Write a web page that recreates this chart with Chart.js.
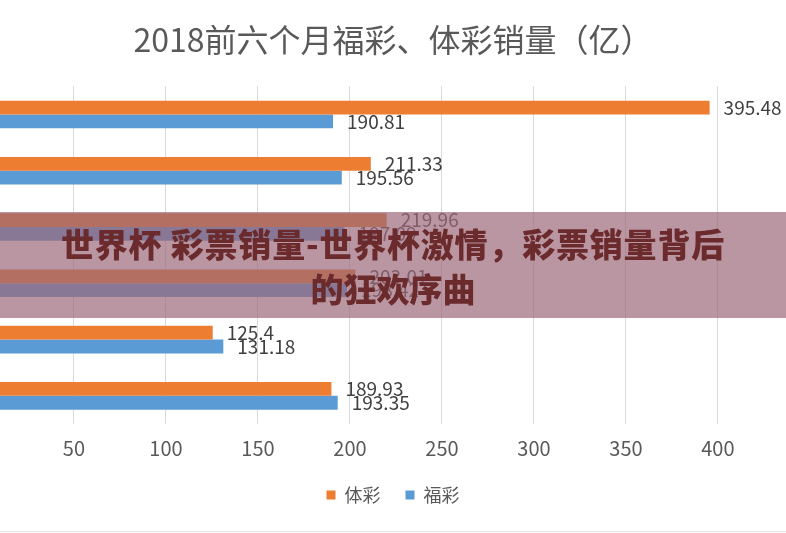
<!DOCTYPE html>
<html>
<head>
<meta charset="utf-8">
<script src="https://cdn.jsdelivr.net/npm/chart.js@4.4.1/dist/chart.umd.min.js"></script>
<style>
  html, body { margin: 0; padding: 0; background: #fff; }
  #wrap { position: relative; width: 786px; height: 533px; overflow: hidden; }
  #grafico { position: absolute; left: 0; top: 0; }
  #banda {
    position: absolute; left: 0; top: 212px; width: 786px; height: 106px;
    background: rgba(155, 106, 121, 0.7);
    box-sizing: border-box; padding-top: 9px;
    text-align: center; color: #6b2a2c;
    font-family: 'Noto Sans CJK SC', sans-serif; font-weight: 900;
    font-size: 33px; line-height: 45px;
  }
  #banda .l1 { letter-spacing: 0.8px; }
  #linea { position: absolute; left: 0; top: 531px; width: 786px; height: 1px; background: #e4e4e4; }
</style>
</head>
<body>
<div id="wrap">
  <canvas id="grafico" width="786" height="533"></canvas>
  <div id="banda"><span class="l1">世界杯 彩票销量-世界杯激情，彩票销量背后</span><br>的狂欢序曲</div>
  <div id="linea"></div>
</div>
<script>
// ==========================================
// Datos: ventas enero-junio 2018 (亿)
// ==========================================
const meses = ['1月', '2月', '3月', '4月', '5月', '6月'];
const ticSeries = ['体彩', '福彩'];
const ventasTicai = [189.93, 125.4, 203.01, 219.96, 211.33, 395.48];
const ventasFucai = [193.35, 131.18, 198.42, 197.09, 195.56, 190.81];
const ticksEjeX = [50, 100, 150, 200, 250, 300, 350, 400];

const titulo = '2018前六个月福彩、体彩销量（亿）';
const fuenteCJK = "'Noto Sans CJK SC', 'Noto Sans', sans-serif";

// el gráfico original está recortado por la izquierda: el 0 queda fuera
const ejeMin = 9.8, ejeMax = 437;

// etiquetas de valor al final de cada barra
const etiquetasValor = {
    id: 'etiquetasValor',
    afterDatasetsDraw(chart) {
        const ctx = chart.ctx;
        ctx.save();
        ctx.font = '19px ' + fuenteCJK;
        ctx.fillStyle = '#404040';
        ctx.textBaseline = 'middle';
        ctx.textAlign = 'left';
        chart.data.datasets.forEach((ds, i) => {
            chart.getDatasetMeta(i).data.forEach((bar, j) => {
                ctx.fillText(String(ds.data[j]), bar.x + 14, bar.y);
            });
        });
        ctx.restore();
    }
};

Chart.defaults.font.family = fuenteCJK;

new Chart(document.getElementById('grafico').getContext('2d'), {
    type: 'bar',
    data: {
        labels: meses,
        datasets: [
            { label: ticSeries[0], data: ventasTicai, backgroundColor: '#ED7D31' },
            { label: ticSeries[1], data: ventasFucai, backgroundColor: '#5B9BD5' }
        ]
    },
    options: {
        indexAxis: 'y',
        responsive: false,
        animation: false,
        devicePixelRatio: 1,
        barPercentage: 1,
        categoryPercentage: 0.49,
        layout: { padding: { top: 17, bottom: 19, left: 0, right: 0 } },
        scales: {
            x: {
                min: ejeMin, max: ejeMax,
                border: { display: false },
                grid: { color: '#d9d9d9', drawTicks: false },
                afterBuildTicks: (s) => { s.ticks = ticksEjeX.map(v => ({ value: v })); },
                afterFit: (s) => { s.height -= 11; },
                ticks: { stepSize: 50, includeBounds: false, padding: 12, color: '#595959', font: { size: 20 } }
            },
            y: { display: false, reverse: true }
        },
        plugins: {
            title: {
                display: true, text: titulo, color: '#595959',
                font: { size: 32, weight: 'normal' },
                padding: { top: 4, bottom: 27 }
            },
            legend: {
                position: 'bottom',
                labels: { boxWidth: 9, boxHeight: 9, padding: 25, color: '#595959', font: { size: 18 } }
            },
            tooltip: { enabled: false }
        }
    },
    plugins: [etiquetasValor]
});
</script>
</body>
</html>
